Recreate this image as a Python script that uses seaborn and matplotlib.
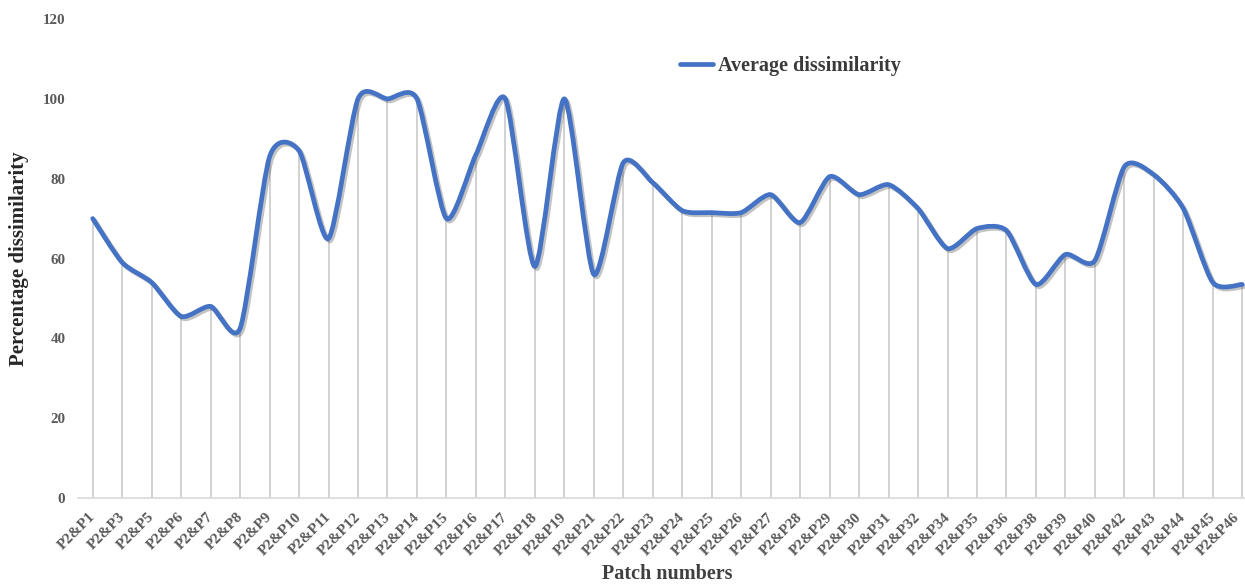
import numpy as np
import matplotlib
matplotlib.use("Agg")
import matplotlib.pyplot as plt
from matplotlib.path import Path
from matplotlib.patches import PathPatch
import matplotlib.patheffects as pe
import matplotlib.transforms as mtransforms
import seaborn as sns

# Patch pairs and their average dissimilarity (%)
patches = ["P2&P1", "P2&P3", "P2&P5", "P2&P6", "P2&P7", "P2&P8", "P2&P9", "P2&P10",
           "P2&P11", "P2&P12", "P2&P13", "P2&P14", "P2&P15", "P2&P16", "P2&P17", "P2&P18",
           "P2&P19", "P2&P21", "P2&P22", "P2&P23", "P2&P24", "P2&P25", "P2&P26", "P2&P27",
           "P2&P28", "P2&P29", "P2&P30", "P2&P31", "P2&P32", "P2&P34", "P2&P35", "P2&P36",
           "P2&P38", "P2&P39", "P2&P40", "P2&P42", "P2&P43", "P2&P44", "P2&P45", "P2&P46"]
dissimilarity = [70, 59, 54, 45.5, 48, 42.5, 85.5, 87,
                 65, 100, 100, 100, 70, 86, 100, 58,
                 100, 56, 84, 79, 72, 71.5, 71.5, 76,
                 69, 80.5, 76, 78.5, 72.5, 62.5, 67.5, 67,
                 53.5, 61, 59.5, 83, 81, 72.5, 54, 53.5]
y_ticks = [0, 20, 40, 60, 80, 100, 120]

sns.set_theme(style="white")
plt.rcParams["font.family"] = ["Liberation Serif", "DejaVu Serif"]
plt.rcParams["font.weight"] = "bold"

BLUE = "#4472C4"
TICK_GRAY = "#595959"

fig = plt.figure(figsize=(12.45, 5.84), dpi=100)
ax = fig.add_axes([78 / 1245, 86 / 584, 1179 / 1245, 479 / 584])

# Series line via seaborn (used for axis setup and legend entry)
sns.lineplot(x=patches, y=dissimilarity, ax=ax, color=BLUE, linewidth=3.4,
             label="Average dissimilarity", sort=False)
base_line = ax.lines[0]

n = len(dissimilarity)
xs = np.arange(n, dtype=float)
ys = np.asarray(dissimilarity, dtype=float)

# Drop lines from each value down to the axis
ax.vlines(xs, 0, ys, colors="#c9c9c9", linewidth=1.2, zorder=1)

# Smoothed Bezier curve through the data values
TENSION = 0.12
pts = np.column_stack([xs, ys])
ext = np.vstack([pts[0], pts, pts[-1]])
verts = [tuple(pts[0])]
codes = [Path.MOVETO]
for i in range(n - 1):
    p0, p1, p2, p3 = ext[i], ext[i + 1], ext[i + 2], ext[i + 3]
    c1 = p1 + (p2 - p0) * TENSION
    c2 = p2 - (p3 - p1) * TENSION
    verts += [tuple(c1), tuple(c2), tuple(p2)]
    codes += [Path.CURVE4] * 3
curve = PathPatch(Path(verts, codes), facecolor="none", edgecolor=BLUE,
                  linewidth=3.4, capstyle="round", joinstyle="round", zorder=3)
curve.set_path_effects([
    pe.SimpleLineShadow(offset=(1.5, -1.5), shadow_color="#555555", alpha=0.35),
    pe.Normal(),
])
ax.add_patch(curve)

# Legend
leg = ax.legend(handles=[base_line], labels=["Average dissimilarity"],
                loc="center left", bbox_to_anchor=(0.5106, 0.902),
                frameon=False, borderpad=0, borderaxespad=0,
                handlelength=1.65, handletextpad=0.25,
                prop={"family": "Liberation Serif", "weight": "bold", "size": 14.5})
for t in leg.get_texts():
    t.set_color("#3a3a3a")
base_line.set_visible(False)

ax.set_xlim(-0.5, n - 0.5)
ax.set_ylim(0, 120)
ax.set_yticks(y_ticks)
ax.set_xticks(xs)
ax.set_xticklabels(patches, rotation=45, ha="right", rotation_mode="anchor")

ax.tick_params(axis="y", length=0, pad=9, labelsize=10.8, labelcolor=TICK_GRAY)
ax.tick_params(axis="x", length=0, pad=9, labelsize=11.0, labelcolor=TICK_GRAY)
xlabels = ax.get_xticklabels()
for k, lbl in enumerate(xlabels):
    lbl.set_fontweight("bold")
    dx = -9 if k == len(xlabels) - 1 else -4
    lbl.set_transform(lbl.get_transform() +
                      mtransforms.ScaledTranslation(dx / 100, 0, fig.dpi_scale_trans))
for lbl in ax.get_yticklabels():
    lbl.set_fontweight("bold")

for side in ["left", "right", "top"]:
    ax.spines[side].set_visible(False)
ax.spines["bottom"].set_color("#d9d9d9")
ax.spines["bottom"].set_linewidth(1.2)
ax.grid(False)

ax.set_ylabel("Percentage dissimilarity", fontsize=15, fontweight="bold", color="#262626")
ax.yaxis.set_label_coords(-0.0416, 0.5)
ax.set_xlabel("Patch numbers", fontsize=14.5, fontweight="bold", color="#404040")
ax.xaxis.set_label_coords(0.5, -0.138)

fig.savefig("out.png", dpi=100, facecolor="white")
